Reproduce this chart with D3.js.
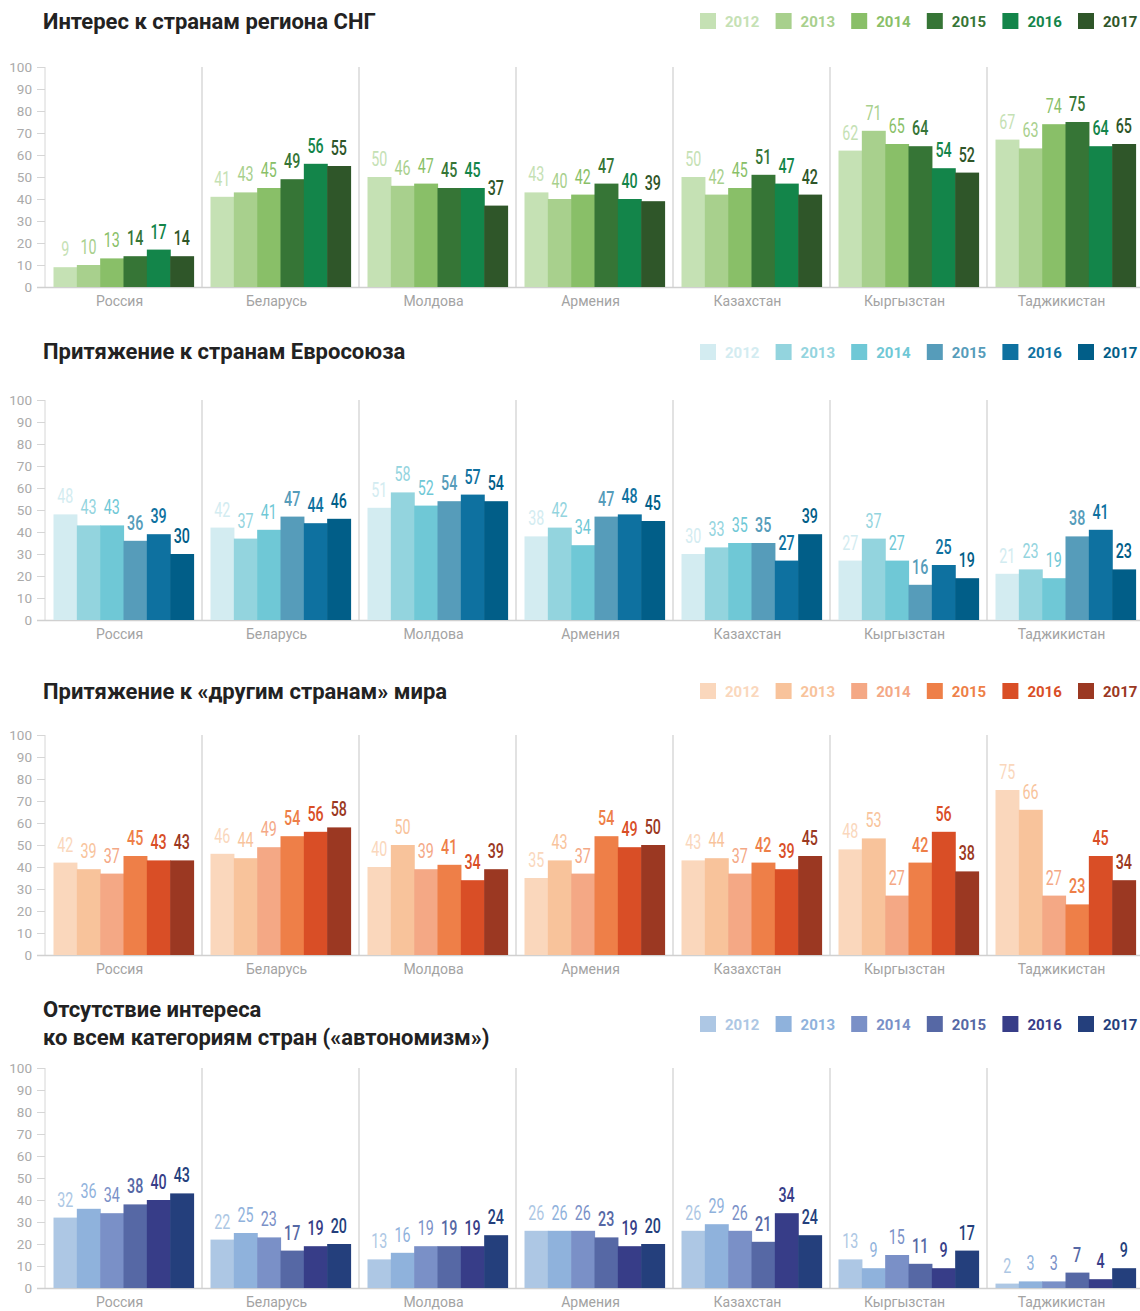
<!DOCTYPE html>
<html>
<head>
<meta charset="utf-8">
<script src="https://cdn.jsdelivr.net/npm/d3@7"></script>
<style>
  body { margin: 0; background: #fff; }
  svg { display: block; font-family: Roboto, "Noto Sans", sans-serif; }
</style>
</head>
<body>
<div id="chart"></div>
<script>
// data
var countries = ["Россия", "Беларусь", "Молдова", "Армения", "Казахстан", "Кыргызстан", "Таджикистан"];
var years = ["2012", "2013", "2014", "2015", "2016", "2017"];
var ticks = [0, 10, 20, 30, 40, 50, 60, 70, 80, 90, 100];

var cisValues = [
  [9, 10, 13, 14, 17, 14],
  [41, 43, 45, 49, 56, 55],
  [50, 46, 47, 45, 45, 37],
  [43, 40, 42, 47, 40, 39],
  [50, 42, 45, 51, 47, 42],
  [62, 71, 65, 64, 54, 52],
  [67, 63, 74, 75, 64, 65]
];
var euValues = [
  [48, 43, 43, 36, 39, 30],
  [42, 37, 41, 47, 44, 46],
  [51, 58, 52, 54, 57, 54],
  [38, 42, 34, 47, 48, 45],
  [30, 33, 35, 35, 27, 39],
  [27, 37, 27, 16, 25, 19],
  [21, 23, 19, 38, 41, 23]
];
var otherValues = [
  [42, 39, 37, 45, 43, 43],
  [46, 44, 49, 54, 56, 58],
  [40, 50, 39, 41, 34, 39],
  [35, 43, 37, 54, 49, 50],
  [43, 44, 37, 42, 39, 45],
  [48, 53, 27, 42, 56, 38],
  [75, 66, 27, 23, 45, 34]
];
var autonomyValues = [
  [32, 36, 34, 38, 40, 43],
  [22, 25, 23, 17, 19, 20],
  [13, 16, 19, 19, 19, 24],
  [26, 26, 26, 23, 19, 20],
  [26, 29, 26, 21, 34, 24],
  [13, 9, 15, 11, 9, 17],
  [2, 3, 3, 7, 4, 9]
];

var greens = ["#c5e1b4", "#a8d08d", "#89bf68", "#367536", "#13854a", "#2f5629"];
var blues = ["#d3ecf1", "#93d4de", "#6fc8d6", "#569cba", "#0e71a0", "#015e88"];
var oranges = ["#fad7bc", "#f8c39b", "#f4a885", "#ee7f48", "#d94e26", "#9b3822"];
var indigos = ["#adc7e4", "#8fb2dc", "#7a90c7", "#5668a5", "#373d88", "#243f7c"];

var panels = [
  { title: ["Интерес к странам региона СНГ"], values: cisValues, colors: greens, top: 67, titleY: 29, legY: 13 },
  { title: ["Притяжение к странам Евросоюза"], values: euValues, colors: blues, top: 400, titleY: 359, legY: 344 },
  { title: ["Притяжение к «другим странам» мира"], values: otherValues, colors: oranges, top: 735, titleY: 699, legY: 683 },
  { title: ["Отсутствие интереса", "ко всем категориям стран («автономизм»)"], values: autonomyValues, colors: indigos, top: 1068, titleY: 1017, legY: 1016 }
];

var width = 1140, height = 1311;
var plotH = 220;

var svg = d3.select("#chart").append("svg")
  .attr("width", width)
  .attr("height", height);

var x0 = d3.scaleBand().domain(countries).range([45, 1144]);
var x1 = d3.scaleBand().domain(years).range([8.5, x0.bandwidth() - 8.5]);

panels.forEach(function (p) {
  var y = d3.scaleLinear().domain([0, 100]).range([p.top + plotH, p.top]);
  var g = svg.append("g");

  // title
  p.title.forEach(function (line, i) {
    g.append("text")
      .attr("x", 43)
      .attr("y", p.titleY + i * 28)
      .attr("font-size", 22)
      .attr("font-weight", 700)
      .attr("fill", "#222")
      .text(line);
  });

  // legend
  var leg = g.append("g").selectAll("g")
    .data(years)
    .enter().append("g")
    .attr("transform", function (d, i) { return "translate(" + (700 + i * 75.6) + "," + p.legY + ")"; });
  leg.append("rect")
    .attr("width", 16)
    .attr("height", 16)
    .attr("fill", function (d, i) { return p.colors[i]; });
  leg.append("text")
    .attr("x", 25)
    .attr("y", 14)
    .attr("font-size", 15)
    .attr("font-weight", 700)
    .attr("fill", function (d, i) { return p.colors[i]; })
    .text(function (d) { return d; });

  // y axis
  var axis = g.append("g")
    .attr("transform", "translate(45,0)")
    .call(d3.axisLeft(y).tickValues(ticks).tickSize(8).tickPadding(5));
  axis.select(".domain").attr("stroke", "#d6d6d6").attr("d", "M0," + y(100) + "V" + y(0));
  axis.selectAll(".tick line").attr("stroke", "#d6d6d6");
  axis.selectAll(".tick text")
    .attr("fill", "#aaa")
    .attr("font-size", 13.5)
    .attr("font-family", "Roboto, sans-serif");

  // separators
  g.selectAll(".sep")
    .data(countries.slice(1))
    .enter().append("line")
    .attr("x1", function (d) { return x0(d); })
    .attr("x2", function (d) { return x0(d); })
    .attr("y1", y(100))
    .attr("y2", y(0))
    .attr("stroke", "#d9d9d9")
    .attr("stroke-width", 1.5);

  // baseline
  g.append("line")
    .attr("x1", 37).attr("x2", width)
    .attr("y1", y(0) + 0.5).attr("y2", y(0) + 0.5)
    .attr("stroke", "#d0d0d0")
    .attr("stroke-width", 1.5);

  // groups
  var grp = g.selectAll(".grp")
    .data(countries)
    .enter().append("g")
    .attr("transform", function (d) { return "translate(" + x0(d) + ",0)"; });

  grp.selectAll("rect")
    .data(function (d, ci) { return p.values[ci].map(function (v, yi) { return { v: v, yi: yi }; }); })
    .enter().append("rect")
    .attr("x", function (d) { return x1(years[d.yi]); })
    .attr("y", function (d) { return y(d.v); })
    .attr("width", x1.bandwidth() + 0.6)
    .attr("height", function (d) { return y(0) - y(d.v); })
    .attr("fill", function (d) { return p.colors[d.yi]; });

  grp.selectAll(".lbl")
    .data(function (d, ci) { return p.values[ci].map(function (v, yi) { return { v: v, yi: yi }; }); })
    .enter().append("text")
    .attr("transform", function (d) {
      return "translate(" + (x1(years[d.yi]) + x1.bandwidth() / 2) + "," + (y(d.v) - 11) + ") scale(0.68,1)";
    })
    .attr("text-anchor", "middle")
    .attr("font-size", 21)
    .attr("font-weight", function (d) { return d.yi < 3 ? 400 : 500; })
    .attr("fill", function (d) { return p.colors[d.yi]; })
    .text(function (d) { return d.v; });

  // country labels
  grp.append("text")
    .attr("x", x0.bandwidth() / 2 - 4)
    .attr("y", y(0) + 19)
    .attr("text-anchor", "middle")
    .attr("font-size", 14)
    .attr("fill", "#a3a3a3")
    .text(function (d) { return d; });
});
</script>
</body>
</html>
